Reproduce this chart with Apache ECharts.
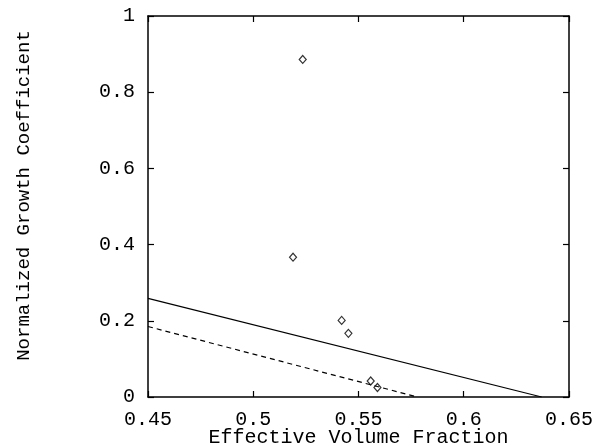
<!DOCTYPE html>
<html>
<head>
<meta charset="utf-8">
<script src="https://cdn.jsdelivr.net/npm/echarts@6/dist/echarts.min.js"></script>
<style>html,body{margin:0;padding:0;background:#fff}#c{width:593px;height:446px}</style>
</head>
<body>
<div id="c"></div>
<script>
// Data
var pointsX = [0.5235, 0.5189, 0.5420, 0.5452, 0.5558, 0.5590];
var pointsY = [0.886, 0.367, 0.201, 0.167, 0.042, 0.025];
var solidX = [0.45, 0.637];
var solidY = [0.259, 0.0];
var dashedX = [0.45, 0.578];
var dashedY = [0.185, 0.0];
var xTitle = 'Effective Volume Fraction';
var yTitle = 'Normalized Growth Coefficient';

function zip(a, b) { return a.map(function (v, i) { return [v, b[i]]; }); }

var FONT = 'Liberation Mono';
var chart = echarts.init(document.getElementById('c'), null, {renderer: 'canvas'});
function axisLine() { return {show: true, onZero: false, lineStyle: {color: '#000', width: 1.5}}; }
function axisTick() { return {show: true, inside: true, length: 6, lineStyle: {color: '#000', width: 1.2}}; }
chart.setOption({
  animation: false,
  backgroundColor: '#fff',
  grid: {left: 148, right: 24, top: 16, bottom: 49, containLabel: false, outerBoundsMode: 'none'},
  xAxis: [
    {
      type: 'value', min: 0.45, max: 0.65, interval: 0.05, position: 'bottom',
      name: xTitle, nameLocation: 'middle', nameGap: 31, nameMoveOverlap: false,
      nameTextStyle: {fontFamily: FONT, fontSize: 20, color: '#000'},
      axisLabel: {fontFamily: FONT, fontSize: 20, color: '#000', margin: 13},
      axisLine: axisLine(), axisTick: axisTick(), splitLine: {show: false}
    },
    {
      type: 'value', min: 0.45, max: 0.65, interval: 0.05, position: 'top',
      axisLabel: {show: false},
      axisLine: axisLine(), axisTick: axisTick(), splitLine: {show: false}
    }
  ],
  yAxis: [
    {
      type: 'value', min: 0, max: 1, interval: 0.2, position: 'left',
      name: yTitle, nameLocation: 'middle', nameGap: 115, nameMoveOverlap: false,
      nameTextStyle: {fontFamily: FONT, fontSize: 19, color: '#000', padding: [0, 0, 0, 22]},
      axisLabel: {fontFamily: FONT, fontSize: 20, color: '#000', margin: 13},
      axisLine: axisLine(), axisTick: axisTick(), splitLine: {show: false}
    },
    {
      type: 'value', min: 0, max: 1, interval: 0.2, position: 'right',
      axisLabel: {show: false},
      axisLine: axisLine(), axisTick: axisTick(), splitLine: {show: false}
    }
  ],
  series: [
    {
      type: 'line', data: zip(solidX, solidY), showSymbol: false, symbol: 'none',
      lineStyle: {color: '#000', width: 1.2}
    },
    {
      type: 'line', data: zip(dashedX, dashedY), showSymbol: false, symbol: 'none',
      lineStyle: {color: '#000', width: 1.2, type: [5, 4]}
    },
    {
      type: 'scatter', data: zip(pointsX, pointsY), symbol: 'diamond', symbolSize: [7, 8],
      itemStyle: {color: '#fff', borderColor: '#000', borderWidth: 1.2}
    }
  ]
});
</script>
</body>
</html>
